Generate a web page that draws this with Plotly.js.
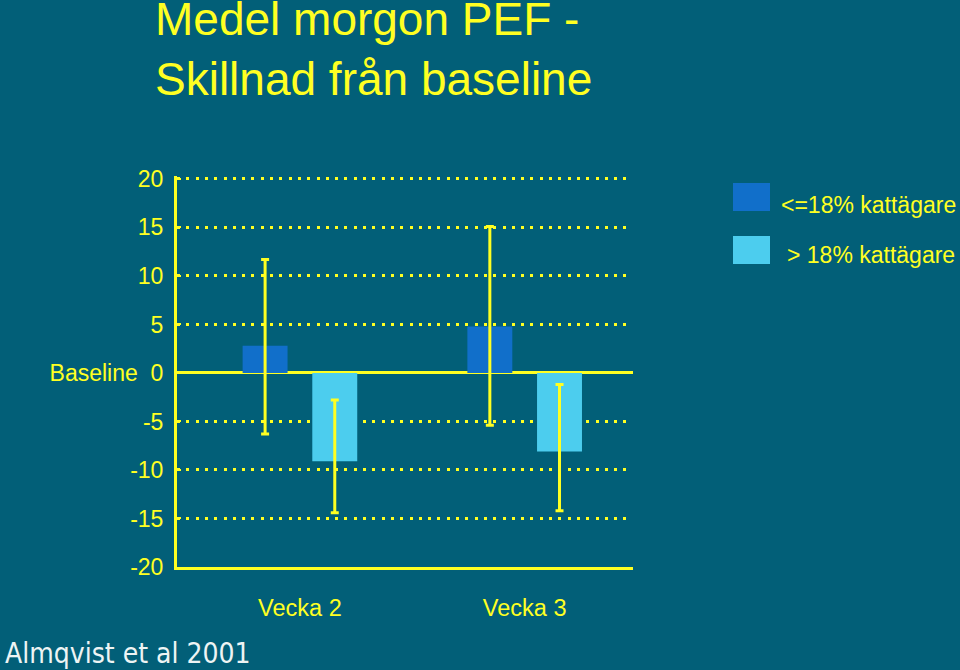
<!DOCTYPE html>
<html>
<head>
<meta charset="utf-8">
<script src="https://cdn.plot.ly/plotly-3.0.1.min.js"></script>
<style>html,body{margin:0;padding:0;background:#025f78;}#chart{width:960px;height:670px;}</style>
</head>
<body>
<div id="chart"></div>
<script>
// Data
const weeks = [0, 1];
const weekLabels = ["Vecka 2", "Vecka 3"];
const seriesNames = ["<=18% kattägare", "> 18% kattägare"];
const lowCatValues = [2.8, 4.8];
const lowCatErrPlus = [8.9, 10.3];
const lowCatErrMinus = [9.1, 10.2];
const highCatValues = [-9.1, -8.1];
const highCatErrPlus = [6.3, 6.9];
const highCatErrMinus = [5.3, 6.1];
const yTickVals = [-20, -15, -10, -5, 0, 5, 10, 15, 20];
const yTickText = ["-20", "-15", "-10", "-5", "Baseline  0", "5", "10", "15", "20"];

const YEL = "#ffff22";
const BG = "#025f78";
const DARK = "#116fca";
const LIGHT = "#4ccdee";
const FONT = "Liberation Sans, Arial, sans-serif";

const errStyle = {type: "data", symmetric: false, color: YEL, thickness: 3, width: 4};

const traces = [
  {type: "bar", x: weeks, y: lowCatValues, name: seriesNames[0], width: 0.2, offset: -0.255,
   marker: {color: DARK, line: {width: 0}},
   error_y: Object.assign({array: lowCatErrPlus, arrayminus: lowCatErrMinus}, errStyle)},
  {type: "bar", x: weeks, y: highCatValues, name: seriesNames[1], width: 0.2, offset: 0.055,
   marker: {color: LIGHT, line: {width: 0}},
   error_y: Object.assign({array: highCatErrPlus, arrayminus: highCatErrMinus}, errStyle)}
];

// legend swatches placed in paper coords
const W = 456, H = 391, L = 177, T = 176;
function px(x) { return (x - L) / W; }
function py(y) { return (T + H - y) / H; }

const layout = {
  width: 960, height: 670,
  paper_bgcolor: BG, plot_bgcolor: BG,
  margin: {l: 177, r: 327, t: 176, b: 103, pad: 0},
  showlegend: false,
  barmode: "overlay",
  font: {family: FONT, color: YEL, size: 23},
  title: {
    text: "Medel morgon PEF -<br>Skillnad från baseline",
    font: {family: FONT, size: 46, color: YEL},
    x: 155 / 960, xref: "container", xanchor: "left",
    y: 1 - 35 / 670, yref: "container", yanchor: "top"
  },
  xaxis: {
    range: [-0.547, 1.482],
    tickvals: weeks, ticktext: weekLabels,
    showgrid: false, zeroline: false,
    showline: true, linecolor: YEL, linewidth: 3,
    ticks: "", ticklabelstandoff: 18,
    tickfont: {family: FONT, size: 23.5, color: YEL},
    fixedrange: true
  },
  yaxis: {
    range: [-20, 20.3],
    tickvals: yTickVals, ticktext: yTickText,
    showgrid: true, gridcolor: YEL, gridwidth: 3, griddash: "3px,6.3px",
    zeroline: true, zerolinecolor: YEL, zerolinewidth: 3,
    showline: true, linecolor: YEL, linewidth: 3,
    ticks: "inside", ticklen: 4, tickcolor: YEL, tickwidth: 2,
    ticklabelstandoff: 6,
    tickfont: {family: FONT, size: 23, color: YEL},
    fixedrange: true
  },
  shapes: [
    {type: "rect", xref: "paper", yref: "paper", x0: px(733), x1: px(770), y0: py(211), y1: py(183),
     fillcolor: DARK, line: {width: 0}},
    {type: "rect", xref: "paper", yref: "paper", x0: px(733), x1: px(770), y0: py(264), y1: py(236),
     fillcolor: LIGHT, line: {width: 0}}
  ],
  annotations: [
    {xref: "paper", yref: "paper", x: px(779), y: py(205), xanchor: "left", yanchor: "middle",
     text: seriesNames[0], showarrow: false, font: {family: FONT, size: 23, color: YEL}},
    {xref: "paper", yref: "paper", x: px(785), y: py(255), xanchor: "left", yanchor: "middle",
     text: seriesNames[1], showarrow: false, font: {family: FONT, size: 23, color: YEL}},
    {xref: "paper", yref: "paper", x: px(3), y: py(653), xanchor: "left", yanchor: "middle",
     text: "Almqvist et al 2001", showarrow: false,
     font: {family: "DejaVu Sans Condensed, DejaVu Sans, sans-serif", size: 28, color: "#eef4f4"}}
  ]
};

Plotly.newPlot("chart", traces, layout, {displayModeBar: false, staticPlot: true});
</script>
</body>
</html>
